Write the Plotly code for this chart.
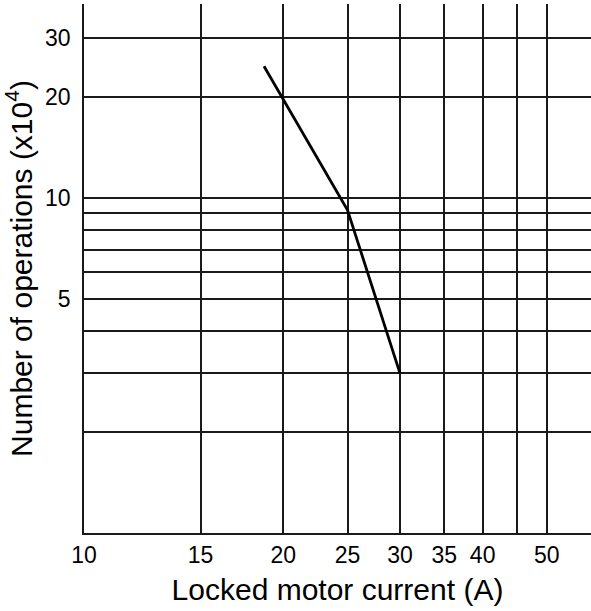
import plotly.graph_objects as go
import math

# Data
current_a = [18.7, 25, 30]
operations_x1e4 = [24.7, 9.2, 3.0]

x_ticks = [10, 15, 20, 25, 30, 35, 40, 50]
x_labels = ["10", "15", "20", "25", "30", "35", "40", "50"]
x_extra_grid = [45]
y_ticks = [5, 10, 20, 30]
y_labels = ["5", "10", "20", "30"]
y_extra_grid = [2, 3, 4, 6, 7, 8, 9]

FONT = "Liberation Sans, Arial, sans-serif"
GRID = "#1a1a1a"

fig = go.Figure()
fig.add_trace(go.Scatter(
    x=current_a, y=operations_x1e4, mode="lines",
    line=dict(color="black", width=2.8),
    showlegend=False, hoverinfo="skip",
))

fig.update_layout(
    width=591, height=611,
    margin=dict(l=84, r=0, t=4, b=78),
    paper_bgcolor="white", plot_bgcolor="white",
    font=dict(family=FONT, color="black"),
    xaxis=dict(
        type="log", range=[1, math.log10(58.3)],
        tickmode="array", tickvals=x_ticks, ticktext=x_labels,
        showgrid=True, gridcolor=GRID, gridwidth=1.6,
        minor=dict(tickmode="array", tickvals=x_extra_grid, showgrid=True,
                   gridcolor=GRID, gridwidth=1.6, ticks=""),
        showline=True, linecolor=GRID, linewidth=1.8,
        ticks="", tickfont=dict(size=23, family=FONT, color="black"),
        ticklabelstandoff=0,
        title=dict(text="Locked motor current (A)", font=dict(size=30, family=FONT, color="black"), standoff=12),
        zeroline=False,
    ),
    yaxis=dict(
        type="log", range=[0, math.log10(37.9)],
        tickmode="array", tickvals=y_ticks, ticktext=y_labels,
        showgrid=True, gridcolor=GRID, gridwidth=1.6,
        minor=dict(tickmode="array", tickvals=y_extra_grid, showgrid=True,
                   gridcolor=GRID, gridwidth=1.6, ticks=""),
        showline=True, linecolor=GRID, linewidth=1.8,
        ticks="", tickfont=dict(size=23, family=FONT, color="black"),
        ticklabelstandoff=7,
        title=dict(text="Number of operations (x10<sup>4</sup>)", font=dict(size=30, family=FONT, color="black"), standoff=4),
        zeroline=False,
    ),
)

fig.write_html(
    "out.html",
    config={"displayModeBar": False},
    post_script="document.body.style.margin='0';document.body.style.overflow='hidden';",
)
